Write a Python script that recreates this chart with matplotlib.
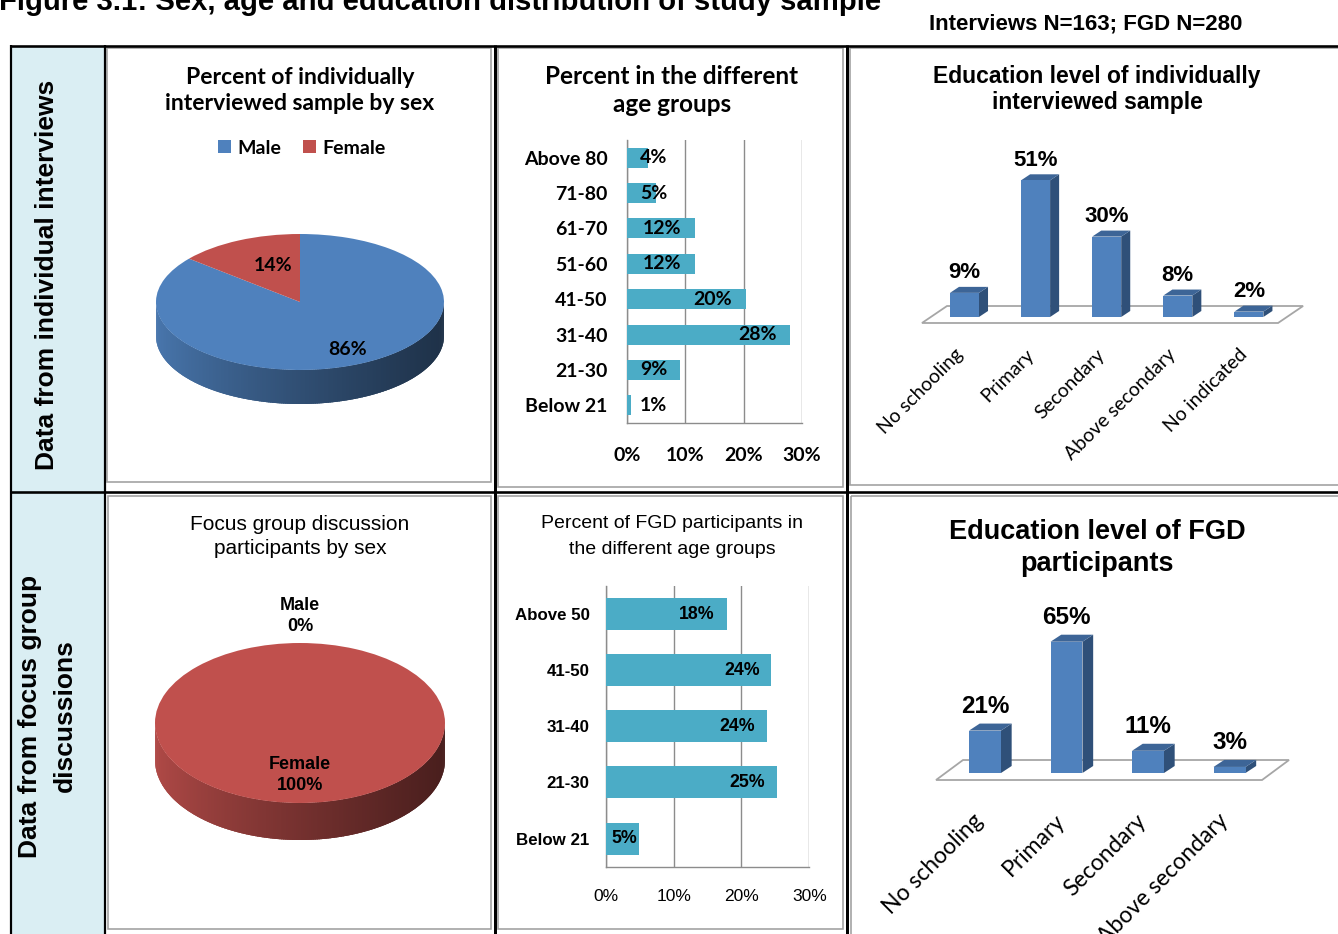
import numpy as np
import matplotlib
matplotlib.use("Agg")
import matplotlib.pyplot as plt
from matplotlib.patches import Wedge, Polygon, Rectangle, Patch
from matplotlib.colors import to_rgb

# ---------------------------------------------------------------- data
sex_labels = ["Male", "Female"]
interview_sex_pct = [86, 14]
fgd_sex_pct = [0, 100]

interview_age_groups = ["Above 80", "71-80", "61-70", "51-60", "41-50", "31-40", "21-30", "Below 21"]
interview_age_pct = [3.6, 4.9, 11.7, 11.7, 20.4, 28.0, 9.1, 0.6]

fgd_age_groups = ["Above 50", "41-50", "31-40", "21-30", "Below 21"]
fgd_age_pct = [17.8, 24.4, 23.7, 25.2, 4.9]

interview_edu_levels = ["No schooling", "Primary", "Secondary", "Above secondary", "No indicated"]
interview_edu_pct = [9, 51, 30, 8, 2]

fgd_edu_levels = ["No schooling", "Primary", "Secondary", "Above secondary"]
fgd_edu_pct = [21, 65, 11, 3]

pct_ticks = [0, 10, 20, 30]

# ---------------------------------------------------------------- style
W, H, DPI = 1338, 934, 100
MALE = "#4F81BD"
FEMALE = "#C0504D"
TEAL = "#4BACC6"
BAR_FRONT = "#4F81BD"
BAR_TOP = "#3D6597"
BAR_SIDE = "#2F5079"
GRID = "#8C8C8C"
BOX_GREY = "#A0A0A0"
FLOOR_EDGE = "#A6A6A6"
LEFT_FILL = "#DAEEF3"

SANS = ["Liberation Sans", "DejaVu Sans"]
SOFT = ["Lato", "DejaVu Sans"]

PX = 0.72  # points per pixel at 100 dpi

fig = plt.figure(figsize=(W / DPI, H / DPI), dpi=DPI)
fig.patch.set_facecolor("white")


def px_rect(x0, y0, x1, y1):
    """Figure-fraction rectangle from pixel box (top-left origin)."""
    return [x0 / W, 1 - y1 / H, (x1 - x0) / W, (y1 - y0) / H]


# ---------------------------------------------------------------- table frame
frame = fig.add_axes([0, 0, 1, 1])
frame.set_xlim(0, W)
frame.set_ylim(H, 0)
frame.axis("off")

frame.add_patch(Rectangle((11, 46), 94, H - 46, fc=LEFT_FILL, ec="none", zorder=0))

panel_boxes = [
    (107, 48, 491, 482), (498, 48, 843, 487), (850, 48, 1345, 485),
    (108, 496, 491, 929), (498, 496, 843, 929), (851, 496, 1345, 940),
]
for x0, y0, x1, y1 in panel_boxes:
    frame.add_patch(Rectangle((x0, y0), x1 - x0, y1 - y0, fill=False,
                              ec=BOX_GREY, lw=1.6 * PX, zorder=1))

line_kw = dict(color="black", solid_capstyle="butt", zorder=2)
frame.plot([10, W], [46, 46], lw=2.6 * PX, **line_kw)
frame.plot([10, W], [492, 492], lw=2.6 * PX, **line_kw)
frame.plot([11, 11], [45, H], lw=2.2 * PX, **line_kw)
frame.plot([105, 105], [45, H], lw=2.2 * PX, **line_kw)
frame.plot([494.5, 494.5], [45, H], lw=3.0 * PX, **line_kw)
frame.plot([846.5, 846.5], [45, H], lw=3.0 * PX, **line_kw)

# header texts
frame.text(-1, 10, "Figure 3.1: Sex, age and education distribution of study sample",
           ha="left", va="baseline", fontsize=21.1, weight="bold", family=SANS)
frame.text(1086, 24, "Interviews N=163; FGD N=280", ha="center", va="center",
           fontsize=16, weight="bold", family=SANS)

# row headings
frame.text(47, 275, "Data from individual interviews", rotation=90, ha="center",
           va="center", fontsize=19, weight="bold", family=SANS)
frame.text(30, 716, "Data from focus group", rotation=90, ha="center",
           va="center", fontsize=19, weight="bold", family=SANS)
frame.text(65, 716, "discussions", rotation=90, ha="center",
           va="center", fontsize=19, weight="bold", family=SANS)


def title(lines, cx, ys, **kw):
    for line, y in zip(lines, ys):
        frame.text(cx, y, line, ha="center", va="center", **kw)


title(["Percent of individually", "interviewed sample by sex"], 300, [77, 103],
      fontsize=16.5, weight="bold", family=SOFT)
title(["Percent in the different", "age groups"], 672, [77, 104],
      fontsize=17.5, weight="bold", family=SOFT)
title(["Education level of individually", "interviewed sample"], 1097, [76, 102],
      fontsize=16.5, weight="bold", family=SANS)
title(["Focus group discussion", "participants by sex"], 300, [524, 549],
      fontsize=15, family=SANS)
title(["Percent of FGD participants in", "the different age groups"], 672, [524, 550],
      fontsize=14, family=SANS)
title(["Education level of FGD", "participants"], 1097, [532, 564],
      fontsize=19.5, weight="bold", family=SANS)


# ---------------------------------------------------------------- 3-D pies
def pie_axes(cx, cy, a, b, depth_px, pad=1.2):
    depth = depth_px / b
    x0, x1 = cx - pad * a, cx + pad * a
    y0 = cy - pad * b
    y1 = cy + (pad + depth) * b
    ax = fig.add_axes(px_rect(x0, y0, x1, y1))
    ax.set_xlim(-pad, pad)
    ax.set_ylim(-(pad + depth), pad)
    ax.axis("off")
    return ax, depth


def slice_at(t, spans):
    for i, (t1, t2) in enumerate(spans):
        if t2 > t1 and ((t - t1) % 360.0) <= (t2 - t1):
            return i
    return 0


def draw_pie3d(ax, values, colors, depth, n_strips=240):
    total = float(sum(values))
    spans, start = [], 90.0
    for v in values:
        sweep = 360.0 * v / total
        spans.append((start - sweep, start))
        start -= sweep
    # shaded rim along the front half; strips overlap slightly to hide seams
    edges = np.linspace(180, 360, n_strips + 1)
    step = edges[1] - edges[0]
    for t1, t2 in zip(edges[:-1], edges[1:]):
        tm = 0.5 * (t1 + t2)
        base = np.array(to_rgb(colors[slice_at(tm, spans)]))
        xm = np.cos(np.radians(tm))
        shade = 0.92 - 0.54 * ((xm + 1) / 2) ** 0.8
        col = np.clip(base * shade, 0, 1)
        t2e = min(t2 + 1.5 * step, 360.0)
        ts = np.linspace(t1, t2e, 4)
        xs, ys = np.cos(np.radians(ts)), np.sin(np.radians(ts))
        pts = np.concatenate([np.column_stack([xs, ys]),
                              np.column_stack([xs[::-1], ys[::-1] - depth])])
        ax.add_patch(Polygon(pts, closed=True, fc=col, ec="none", zorder=2))
    for (t1, t2), c in zip(spans, colors):
        if t2 - t1 > 0:
            ax.add_patch(Wedge((0, 0), 1, t1, t2, fc=c, ec="none", zorder=3))
    return spans


# interviews by sex
ax_p1, d1 = pie_axes(300, 302, 144, 68, 34)
spans1 = draw_pie3d(ax_p1, interview_sex_pct, [MALE, FEMALE], d1)
for (t1, t2), v, r in zip(spans1, interview_sex_pct, [0.78, 0.6]):
    m = np.radians(0.5 * (t1 + t2))
    ax_p1.text(r * np.cos(m) + (0.0 if v > 50 else 0.07), r * np.sin(m), f"{v:.0f}%",
               ha="center", va="center", fontsize=14, weight="bold", family=SOFT,
               color="black", zorder=5)
fig.legend(handles=[Patch(fc=MALE), Patch(fc=FEMALE)], labels=sex_labels,
           loc="center", bbox_to_anchor=(302 / W, 1 - 148 / H), ncol=2, frameon=False,
           handlelength=0.65, handleheight=0.65, handletextpad=0.35, columnspacing=1.1,
           prop=dict(family=SOFT, weight="bold", size=14))

# FGD participants by sex
ax_p2, d2 = pie_axes(300, 723, 145, 80, 37)
spans2 = draw_pie3d(ax_p2, fgd_sex_pct, [MALE, FEMALE], d2)
for (t1, t2), v, name, r in zip(spans2, fgd_sex_pct, sex_labels, [1.34, 0.65]):
    m = np.radians(0.5 * (t1 + t2))
    ax_p2.text(r * np.cos(m), r * np.sin(m), f"{name}\n{v:.0f}%", ha="center",
               va="center", fontsize=13, weight="bold", family=SANS,
               linespacing=1.35, zorder=5)


# ---------------------------------------------------------------- horizontal bars
def hbar_panel(box, cats, vals, bar_h, label_back, label_floor, cat_font, tick_font,
               val_font, xpad, ypad):
    ax = fig.add_axes(px_rect(*box), facecolor="none")
    pos = np.arange(len(cats))
    ax.barh(pos, vals, height=bar_h, color=TEAL, zorder=3)
    ax.set_xlim(0, 30)
    ax.set_ylim(len(cats) - 0.5, -0.5)
    ax.set_xticks(pct_ticks, [f"{t}%" for t in pct_ticks], **tick_font)
    ax.set_yticks(pos, cats, **cat_font)
    ax.grid(axis="x", color=GRID, lw=1.0, zorder=0)
    ax.set_axisbelow(True)
    for s in ("top", "right"):
        ax.spines[s].set_visible(False)
    for s in ("left", "bottom"):
        ax.spines[s].set_color(GRID)
        ax.spines[s].set_linewidth(1.0)
    ax.tick_params(axis="x", length=0, pad=xpad)
    ax.tick_params(axis="y", length=0, pad=ypad)
    for p, v in zip(pos, vals):
        ax.text(max(v - label_back, label_floor), p, f"{v:.0f}%", ha="right",
                va="center", zorder=4, **val_font)
    return ax


hbar_panel((627, 140, 802, 423), interview_age_groups, interview_age_pct, 0.565,
           2.4, 6.9,
           cat_font=dict(family=SOFT, weight="bold", fontsize=14),
           tick_font=dict(family=SOFT, weight="bold", fontsize=14),
           val_font=dict(family=SOFT, weight="bold", fontsize=14),
           xpad=17, ypad=14)

hbar_panel((605.7, 586, 809.3, 866.7), fgd_age_groups, fgd_age_pct, 0.57,
           1.7, 4.7,
           cat_font=dict(family=SANS, weight="bold", fontsize=12.2),
           tick_font=dict(family=SANS, fontsize=12.5),
           val_font=dict(family=SANS, weight="bold", fontsize=12.8),
           xpad=16, ypad=11.5)


# ---------------------------------------------------------------- 3-D columns
def bar3d_panel(box, cats, vals, xlim, ylim, half_w, ddx, ddy, floor_y, floor_x,
                floor_off, label_gap, cat_dx, cat_y, val_font, cat_font):
    ax = fig.add_axes(px_rect(*box), facecolor="none")
    ax.set_xlim(*xlim)
    ax.set_ylim(*ylim)
    ax.axis("off")
    fx0, fx1 = floor_x
    ox, oy = floor_off
    ax.add_patch(Polygon([[fx0, floor_y], [fx1, floor_y], [fx1 + ox, floor_y + oy],
                          [fx0 + ox, floor_y + oy]], closed=True, fc="white",
                         ec=FLOOR_EDGE, lw=1.8 * PX, zorder=1))
    for i, (v, name) in enumerate(zip(vals, cats)):
        left, right = i - half_w, i + half_w
        ax.add_patch(Polygon([[right, 0], [right + ddx, ddy], [right + ddx, v + ddy],
                              [right, v]], closed=True, fc=BAR_SIDE, ec="none", zorder=2))
        ax.add_patch(Polygon([[left, v], [right, v], [right + ddx, v + ddy],
                              [left + ddx, v + ddy]], closed=True, fc=BAR_TOP, ec="none",
                             zorder=2))
        ax.add_patch(Rectangle((left, 0), 2 * half_w, v, fc=BAR_FRONT, ec="none", zorder=3))
        ax.text(i, v + ddy + label_gap, f"{v}%", ha="center", va="center", zorder=4,
                **val_font)
        ax.text(i + cat_dx, cat_y, name, rotation=45, rotation_mode="anchor", ha="right",
                va="center", **cat_font)
    return ax


bar3d_panel((900, 140, 1320, 335), interview_edu_levels, interview_edu_pct,
            xlim=(-0.907, 5.0), ylim=(-6.72, 66.04), half_w=0.204, ddx=0.127, ddy=2.24,
            floor_y=-2.24, floor_x=(-0.598, 4.41), floor_off=(0.352, 6.34),
            label_gap=5.3, cat_dx=-0.06, cat_y=-13.0,
            val_font=dict(family=SANS, weight="bold", fontsize=16),
            cat_font=dict(family=SOFT, fontsize=14))

bar3d_panel((900, 590, 1320, 790), fgd_edu_levels, fgd_edu_pct,
            xlim=(-1.043, 4.110), ylim=(-8.42, 90.6), half_w=0.196, ddx=0.131, ddy=3.47,
            floor_y=-3.47, floor_x=(-0.601, 3.399), floor_off=(0.331, 9.9),
            label_gap=8.6, cat_dx=-0.06, cat_y=-22.0,
            val_font=dict(family=SANS, weight="bold", fontsize=17.5),
            cat_font=dict(family=SOFT, fontsize=16.5))

fig.savefig("out.png", dpi=DPI, facecolor="white")
